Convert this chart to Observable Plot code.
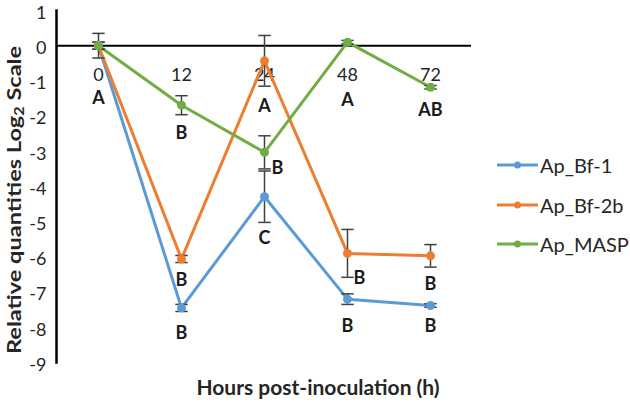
<!DOCTYPE html>
<html><head><meta charset="utf-8">
<script src="https://cdn.jsdelivr.net/npm/d3@7"></script>
<script src="https://cdn.jsdelivr.net/npm/@observablehq/plot@0.6"></script>
<style>
body{margin:0;background:#fff;}
#chart{position:relative;width:630px;height:402px;font-family:Lato,sans-serif;color:#262626;}
.lg{position:absolute;left:497px;display:flex;align-items:center;font-size:20px;height:24px;}
.lg span{margin-left:2px;}
#xt{position:absolute;left:0;width:636px;top:375px;text-align:center;font-weight:bold;font-size:21px;line-height:24px;}
#yt{position:absolute;left:-156px;top:188px;width:340px;text-align:center;font-weight:bold;font-size:19px;line-height:24px;transform:rotate(-90deg) scaleX(1.24);white-space:nowrap;}
#yt sub{font-size:13px;vertical-align:-3px;line-height:0;}
</style></head><body><div id="chart"></div>
<script>
const times = ["0","12","24","48","72"];
const seriesNames = ["Ap_Bf-1","Ap_Bf-2b","Ap_MASP"];
const bf1 = [0, -7.45, -4.29, -7.2, -7.38];
const bf2b = [0, -6.06, -0.43, -5.9, -5.97];
const masp = [0, -1.69, -3.03, 0.1, -1.18];
const bf1Err = [0.1, 0.1, 0.73, 0.15, 0.05];
const bf2bErr = [0.1, 0.1, 0.72, 0.68, 0.32];
const maspErr = [0.35, 0.27, 0.47, 0.05, 0.05];
const bf1Letters = ["", "B", "C", "B", "B"];
const bf2bLetters = ["", "B", "A", "B", "B"];
const maspLetters = ["A", "B", "B", "A", "AB"];
const yTicks = [1, 0, -1, -2, -3, -4, -5, -6, -7, -8, -9];

// layout-only: letter label offsets in px [dx, dy]
const bf1LetterOff = [[0,0],[0,25],[0,42],[0,27],[0,21]];
const bf2bLetterOff = [[0,0],[0,21],[0,45],[12,25],[0,28]];
const maspLetterOff = [[0,53],[0,28],[13,16],[0,58],[0,23]];

const colors = ["#5B9BD5", "#ED7D31", "#70AD47"];
const vals = [bf1, bf2b, masp], errs = [bf1Err, bf2bErr, maspErr];
const letters = [bf1Letters, bf2bLetters, maspLetters];
const offs = [bf1LetterOff, bf2bLetterOff, maspLetterOff];

const W = 630, H = 402, mT = 10, mB = 40, mL = 56, mR = 159;
const pxPerUnit = (H - mT - mB) / 10;

const rows = [];
seriesNames.forEach((s, i) => times.forEach((t, j) => rows.push({
  series: s, time: t, value: vals[i][j], err: errs[i][j],
  letter: letters[i][j], dx: offs[i][j][0],
  ly: vals[i][j] - offs[i][j][1] / pxPerUnit
})));

const capSymbol = {draw(ctx, size) { const w = Math.sqrt(size); ctx.moveTo(-w, 0); ctx.lineTo(w, 0); }};
const lblFont = 18;

const plot = Plot.plot({
  width: W, height: H, marginTop: mT, marginBottom: mB, marginLeft: mL, marginRight: mR,
  style: {fontFamily: 'Lato, sans-serif', fontSize: "18px", color: "#262626", background: "#fff", overflow: "visible"},
  x: {type: "point", domain: times, padding: 0.5, axis: null},
  y: {domain: [-9, 1]},
  color: {domain: seriesNames, range: colors},
  marks: [
    Plot.axisY({ticks: yTicks, tickSize: 0, tickPadding: 10, dy: 2.5, fontSize: 18, tickFormat: d => String(d), label: null}),
    Plot.frame({anchor: "left", stroke: "#000", strokeWidth: 2.5}),
    Plot.ruleY([0], {stroke: "#000", strokeWidth: 2}),
    Plot.text(times, {x: d => d, y: () => 0, dy: 30, text: d => d, fontSize: 18, fill: "#262626"}),
    Plot.line(rows, {x: "time", y: "value", z: "series", stroke: "series", strokeWidth: 3}),
    Plot.ruleX(rows, {x: "time", y1: d => d.value - d.err, y2: d => d.value + d.err, stroke: "#404040", strokeWidth: 1.5}),
    Plot.dot(rows, {x: "time", y: d => d.value - d.err, symbol: capSymbol, r: 3.5, stroke: "#404040", strokeWidth: 1.5}),
    Plot.dot(rows, {x: "time", y: d => d.value + d.err, symbol: capSymbol, r: 3.5, stroke: "#404040", strokeWidth: 1.5}),
    Plot.dot(rows, {x: "time", y: "value", fill: "series", r: 4.5}),
    Plot.text(rows.filter(d => d.letter && d.dx === 0), {x: "time", y: "ly", text: "letter", fontWeight: "bold", fontSize: lblFont, fill: "#1a1a1a"}),
    Plot.text(rows.filter(d => d.letter && d.dx === 12), {x: "time", y: "ly", text: "letter", dx: 12, fontWeight: "bold", fontSize: lblFont, fill: "#1a1a1a"}),
    Plot.text(rows.filter(d => d.letter && d.dx === 13), {x: "time", y: "ly", text: "letter", dx: 13, fontWeight: "bold", fontSize: lblFont, fill: "#1a1a1a"})
  ]
});
const chart = document.getElementById("chart");
chart.appendChild(plot);

const legCenters = [165, 204.5, 244];
seriesNames.forEach((s, i) => {
  const d = document.createElement("div");
  d.className = "lg";
  d.style.top = (legCenters[i] - 12) + "px";
  d.innerHTML = `<svg width="41" height="12"><line x1="0" x2="41" y1="6" y2="6" stroke="${colors[i]}" stroke-width="3"/><circle cx="20.5" cy="6" r="3.5" fill="${colors[i]}"/></svg><span>${s}</span>`;
  chart.appendChild(d);
});
const xt = document.createElement("div");
xt.id = "xt"; xt.textContent = "Hours post-inoculation (h)";
chart.appendChild(xt);
const yt = document.createElement("div");
yt.id = "yt"; yt.innerHTML = "Relative quantities Log<sub>2</sub> Scale";
chart.appendChild(yt);
</script></body></html>
